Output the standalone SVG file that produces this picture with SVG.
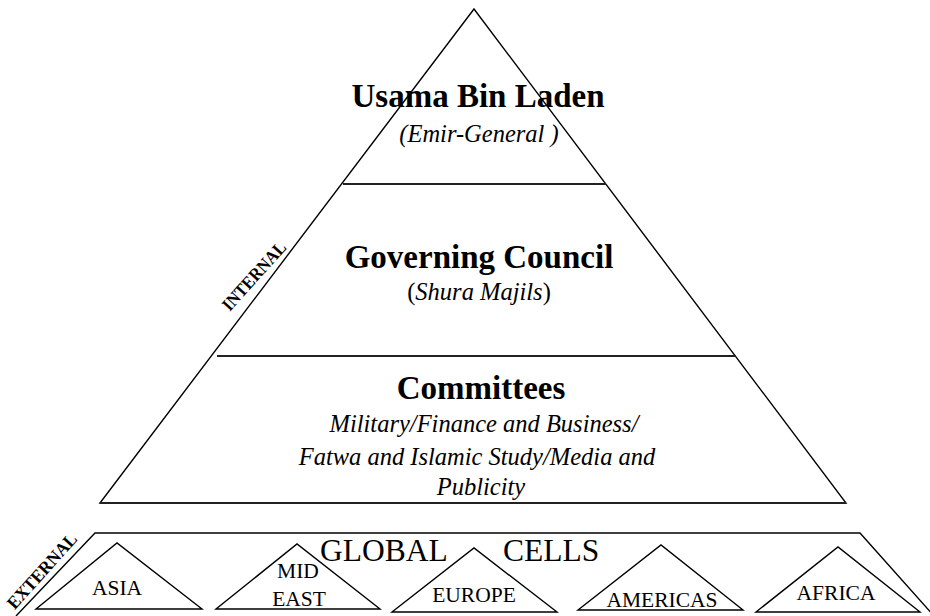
<svg xmlns="http://www.w3.org/2000/svg" width="930" height="616" viewBox="0 0 930 616">
<style>
.edge{fill:none;stroke:#000;stroke-width:1.4;stroke-linejoin:miter}
.div{stroke:#222;stroke-width:2}
.t{font-family:"Liberation Serif","Times New Roman",serif;fill:#000;text-anchor:middle}
.b{font-weight:bold;font-size:33px}
.i{font-style:italic;font-size:24.5px}
.c{font-size:21.5px}
.side{font-weight:bold;font-size:18px}
</style>
<rect width="930" height="616" fill="#fff"/>
<g id="pyramid">
<polygon class="edge" points="100,503 474,9 846,503"/>
<line class="div" x1="343" y1="184" x2="606" y2="184"/>
<line class="div" x1="217" y1="356" x2="736" y2="356"/>
<line class="div" x1="100" y1="503" x2="846" y2="503"/>
</g>
<g id="leader">
<text class="t b" x="478" y="107">Usama Bin Laden</text>
<text class="t i" x="479" y="142">(Emir-General )</text>
</g>
<g id="council">
<text class="t b" x="479" y="268">Governing Council</text>
<text class="t" x="479" y="300" font-size="24.5">(<tspan font-style="italic">Shura Majils</tspan>)</text>
</g>
<g id="committees">
<text class="t b" x="481" y="399">Committees</text>
<text class="t i" x="484" y="432">Military/Finance and Business/</text>
<text class="t i" x="477" y="465">Fatwa and Islamic Study/Media and</text>
<text class="t i" x="481" y="495">Publicity</text>
</g>
<g id="internal-label">
<text class="t side" transform="translate(254,276) rotate(-48)" x="0" y="6" textLength="86" lengthAdjust="spacingAndGlyphs">INTERNAL</text>
</g>
<g id="global-cells">
<polyline class="edge" points="16,616 95,533 860,533 934,616"/>
<text class="t" x="320" y="561" font-size="31.5" style="text-anchor:start">GLOBAL</text>
<text class="t" x="503" y="561" font-size="31.5" style="text-anchor:start">CELLS</text>
</g>
<g id="external-label">
<text class="t side" transform="translate(42,571) rotate(-48)" x="0" y="6" textLength="95" lengthAdjust="spacingAndGlyphs">EXTERNAL</text>
</g>
<g id="asia">
<polygon class="edge" points="36,609 117,543 202,609"/>
<text class="t c" x="117" y="595">ASIA</text>
</g>
<g id="mideast">
<polygon class="edge" points="216,609 297,544 380,609"/>
<text class="t c" x="298" y="578">MID</text>
<text class="t c" x="299" y="606">EAST</text>
</g>
<g id="europe">
<polygon class="edge" points="392,612 474,548 557,612"/>
<text class="t c" x="474" y="602">EUROPE</text>
</g>
<g id="americas">
<polygon class="edge" points="578,610 661,545 743,610"/>
<text class="t c" x="662" y="607">AMERICAS</text>
</g>
<g id="africa">
<polygon class="edge" points="756,612 838,547 920,612"/>
<text class="t c" x="836" y="600">AFRICA</text>
</g>
</svg>
